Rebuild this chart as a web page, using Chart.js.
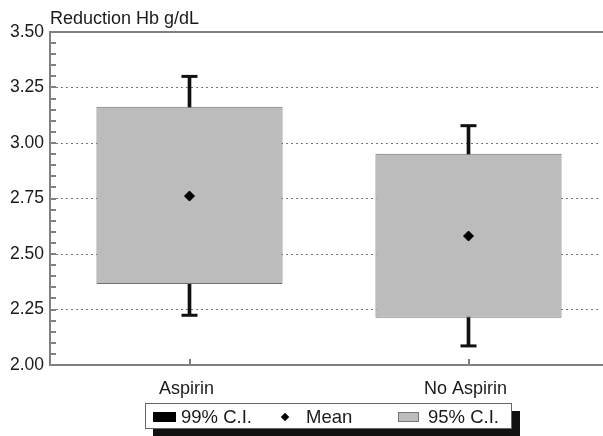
<!DOCTYPE html>
<html>
<head>
<meta charset="utf-8">
<script src="https://cdn.jsdelivr.net/npm/chart.js@4.4.1/dist/chart.umd.min.js"></script>
<style>
html, body { margin: 0; padding: 0; background: #fff; overflow: hidden; width: 603px; height: 436px; }
#wrap { position: relative; width: 603px; height: 436px; overflow: hidden; font-family: "Liberation Sans", Arial, sans-serif; color: #1a1a1a; }
#chart { position: absolute; left: 0; top: 0; }
#edge { position: absolute; left: 599px; top: 34px; width: 4px; height: 329px; background: #fff; }
#title { position: absolute; left: 50px; top: 10px; font-size: 18px; line-height: 17px; white-space: nowrap; }
#legend { position: absolute; left: 145px; top: 403px; width: 365px; height: 24px; border: 1px solid #666; background: #fff; box-shadow: 8px 8px 0 #111; font-size: 18.5px; }
#legend .item { position: absolute; top: 0; height: 24px; line-height: 25px; white-space: nowrap; }
#legend .sw { display: inline-block; vertical-align: middle; margin-top: -3px; }
</style>
</head>
<body>
<div id="wrap">
  <canvas id="chart" width="612" height="436"></canvas>
  <div id="edge"></div>
  <div id="title">Reduction Hb g/dL</div>
  <div id="legend">
    <div class="item" style="left:7px"><span class="sw" style="width:23px;height:10px;background:#000;margin-right:5px"></span><span id="l0"></span></div>
    <div class="item" style="left:136px"><span class="sw" style="width:6px;height:6px;background:#000;transform:rotate(45deg);margin-right:18px"></span><span id="l1"></span></div>
    <div class="item" style="left:252px"><span class="sw" style="width:19px;height:8px;background:#bcbcbc;border:1px solid #777;margin-right:9px"></span><span id="l2"></span></div>
  </div>
</div>
<script>
// values
var categories = ['Aspirin', 'No Aspirin'];
var ci95Low = [2.365, 2.213];
var ci95High = [3.163, 2.952];
var ci99Low = [2.224, 2.086];
var ci99High = [3.300, 3.078];
var means = [2.761, 2.581];
var seriesNames = ['99% C.I.', 'Mean', '95% C.I.'];

document.getElementById('l0').textContent = seriesNames[0];
document.getElementById('l1').textContent = seriesNames[1];
document.getElementById('l2').textContent = seriesNames[2];

var axisGray = '#808080';
var tickFont = { family: '"Liberation Sans", Arial, sans-serif', size: 17.5 };
var catFont = { family: '"Liberation Sans", Arial, sans-serif', size: 18 };

function isMajor(v) {
    return Math.abs(v * 4 - Math.round(v * 4)) < 1e-6;
}

var caps = [];
categories.forEach(function (c, i) {
    caps.push({ x: c, y: ci99High[i] });
    caps.push({ x: c, y: ci99Low[i] });
});

// small inward tick marks on the left axis and at the categories
var innerTicks = {
    id: 'innerTicks',
    afterDraw: function (chart) {
        var c = chart.ctx, y = chart.scales.y, x = chart.scales.x, area = chart.chartArea;
        c.save();
        c.strokeStyle = axisGray;
        c.lineWidth = 2;
        y.ticks.forEach(function (t) {
            var py = Math.round(y.getPixelForValue(t.value));
            c.beginPath();
            c.moveTo(area.left, py);
            c.lineTo(area.left + 6, py);
            c.stroke();
        });
        for (var i = 0; i < categories.length; i++) {
            var px = Math.round(x.getPixelForValue(i));
            c.beginPath();
            c.moveTo(px, area.bottom);
            c.lineTo(px, area.bottom - 6);
            c.stroke();
        }
        c.restore();
    }
};

var ctx = document.getElementById('chart').getContext('2d');
var ciChart = new Chart(ctx, {
    type: 'bar',
    data: {
        labels: categories,
        datasets: [
            {
                type: 'line',
                label: seriesNames[1],
                data: means,
                showLine: false,
                pointStyle: 'rectRot',
                pointRadius: 5,
                pointHoverRadius: 5,
                pointBackgroundColor: '#000',
                pointBorderColor: '#000',
                pointBorderWidth: 1,
                order: 0
            },
            {
                type: 'line',
                label: 'caps',
                data: caps,
                showLine: false,
                pointStyle: 'line',
                pointRadius: 8,
                pointHoverRadius: 8,
                pointBorderColor: '#111',
                pointBorderWidth: 3,
                order: 1
            },
            {
                label: seriesNames[2],
                data: categories.map(function (c, i) { return [ci95Low[i], ci95High[i]]; }),
                backgroundColor: '#bcbcbc',
                borderColor: '#707070',
                borderWidth: 1,
                borderSkipped: false,
                barPercentage: 0.667,
                categoryPercentage: 1,
                grouped: false,
                order: 1
            },
            {
                label: seriesNames[0],
                data: categories.map(function (c, i) { return [ci99Low[i], ci99High[i]]; }),
                backgroundColor: '#111',
                borderWidth: 0,
                barThickness: 3,
                grouped: false,
                order: 2
            }
        ]
    },
    options: {
        responsive: false,
        animation: false,
        // plot runs past the right edge of the picture
        layout: { autoPadding: false, padding: { left: 0, right: 4, top: 0, bottom: 0 } },
        plugins: {
            legend: { display: false },
            tooltip: { enabled: false }
        },
        scales: {
            x: {
                type: 'category',
                offset: true,
                grid: { display: false, drawTicks: false },
                border: { color: axisGray, width: 2 },
                ticks: { font: catFont, color: '#1a1a1a', padding: 13, labelOffset: -3 },
                afterFit: function (s) { s.height = 71; }
            },
            x2: {
                type: 'category',
                position: 'top',
                offset: true,
                grid: { display: false, drawTicks: false },
                border: { color: axisGray, width: 2 },
                ticks: { display: false },
                afterFit: function (s) { s.height = 32; }
            },
            y: {
                min: 2,
                max: 3.5,
                ticks: {
                    stepSize: 0.05,
                    autoSkip: false,
                    font: tickFont,
                    color: '#1a1a1a',
                    padding: 6,
                    callback: function (v) { return isMajor(v) ? v.toFixed(2) : ''; }
                },
                grid: {
                    drawTicks: false,
                    lineWidth: 1,
                    color: function (c) {
                        var v = c.tick ? c.tick.value : 0;
                        return (isMajor(v) && v > 2.001 && v < 3.499) ? '#777' : 'transparent';
                    }
                },
                border: { color: axisGray, width: 2, dash: [2, 3] },
                afterFit: function (s) { s.width = 50; }
            }
        }
    },
    plugins: [innerTicks]
});
</script>
</body>
</html>
